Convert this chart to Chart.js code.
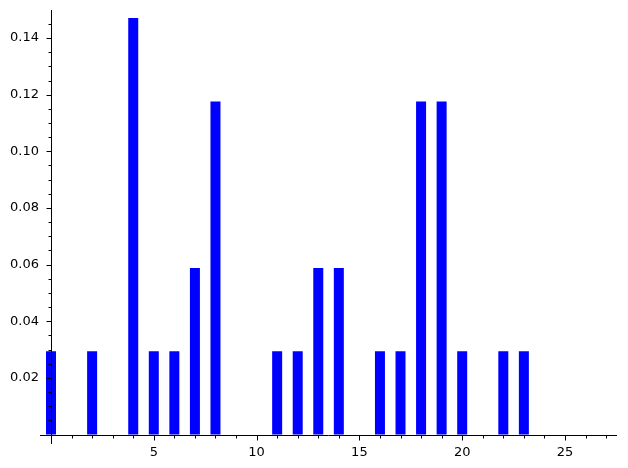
<!DOCTYPE html>
<html>
<head>
<meta charset="utf-8">
<script src="https://cdn.jsdelivr.net/npm/chart.js@4.4.0/dist/chart.umd.min.js"></script>
<style>
  html, body { margin: 0; padding: 0; background: #fff; }
  #wrap { width: 628px; height: 468px; }
</style>
</head>
<body>
<div id="wrap"><canvas id="chart" width="628" height="468"></canvas></div>
<script>
// bar positions and heights (fractions of 34)
const positions = [0, 2, 4, 5, 6, 7, 8, 11, 12, 13, 14, 16, 17, 18, 19, 20, 22, 23];
const heights = [0.0294, 0.0294, 0.1471, 0.0294, 0.0294, 0.0588, 0.1176, 0.0294, 0.0294,
                 0.0588, 0.0588, 0.0294, 0.0294, 0.1176, 0.1176, 0.0294, 0.0294, 0.0294];

const xTickValues = [5, 10, 15, 20, 25];
const yTickValues = [0.02, 0.04, 0.06, 0.08, 0.10, 0.12, 0.14];

const font = { family: "'DejaVu Sans', sans-serif", size: 13 };

// axes cross at the origin, matplotlib style, with major/minor ticks
const originAxes = {
  id: "originAxes",
  afterDraw(chart) {
    const ctx = chart.ctx;
    const area = chart.chartArea;
    const xs = chart.scales.x, ys = chart.scales.y;
    const y0 = Math.round(ys.getPixelForValue(0)) + 0.5;
    const x0 = Math.round(xs.getPixelForValue(0)) + 0.5;
    ctx.save();
    ctx.strokeStyle = "#000";
    ctx.lineWidth = 1;
    ctx.beginPath();
    // spines
    ctx.moveTo(area.left, y0);
    ctx.lineTo(area.right, y0);
    ctx.moveTo(x0, area.top);
    ctx.lineTo(x0, area.bottom + 1);
    // x ticks point down
    for (let v = Math.ceil(xs.min); v <= xs.max; v++) {
      if (v === 0) continue;
      const px = Math.round(xs.getPixelForValue(v)) + 0.5;
      const len = v % 5 === 0 ? 5 : 3;
      ctx.moveTo(px, y0);
      ctx.lineTo(px, y0 + len);
    }
    // y ticks point left
    for (let i = 1; i * 0.005 <= ys.max; i++) {
      const py = Math.round(ys.getPixelForValue(i * 0.005)) + 0.5;
      const len = i % 4 === 0 ? 5 : 3;
      ctx.moveTo(x0, py);
      ctx.lineTo(x0 - len, py);
    }
    ctx.stroke();
    ctx.restore();
  }
};

new Chart(document.getElementById("chart"), {
  type: "bar",
  data: {
    datasets: [{
      data: positions.map((p, i) => ({ x: p, y: heights[i] })),
      backgroundColor: "#0000ff",
      borderWidth: 0,
      inflateAmount: 0,
      barThickness: 10
    }]
  },
  options: {
    responsive: false,
    animation: false,
    devicePixelRatio: 1,
    layout: { padding: { left: 0, right: 11, top: 10, bottom: 0 } },
    plugins: { legend: { display: false }, tooltip: { enabled: false } },
    scales: {
      x: {
        type: "linear",
        position: "bottom",
        offset: false,
        min: -0.535,
        max: 27.53,
        grid: { display: false, drawTicks: false, offset: false },
        border: { display: false },
        afterBuildTicks: s => { s.ticks = xTickValues.map(v => ({ value: v })); },
        afterFit: s => { s.height = 25; },
        ticks: { color: "#000", font, padding: 2, autoSkip: false, maxRotation: 0 }
      },
      y: {
        type: "linear",
        position: "left",
        min: -0.003,
        max: 0.1499,
        grid: { display: false, drawTicks: false },
        border: { display: false },
        afterBuildTicks: s => { s.ticks = yTickValues.map(v => ({ value: v })); },
        afterFit: s => { s.width = 40; },
        ticks: { color: "#000", font, padding: 1, autoSkip: false, callback: v => v.toFixed(2) }
      }
    }
  },
  plugins: [originAxes]
});
</script>
</body>
</html>
